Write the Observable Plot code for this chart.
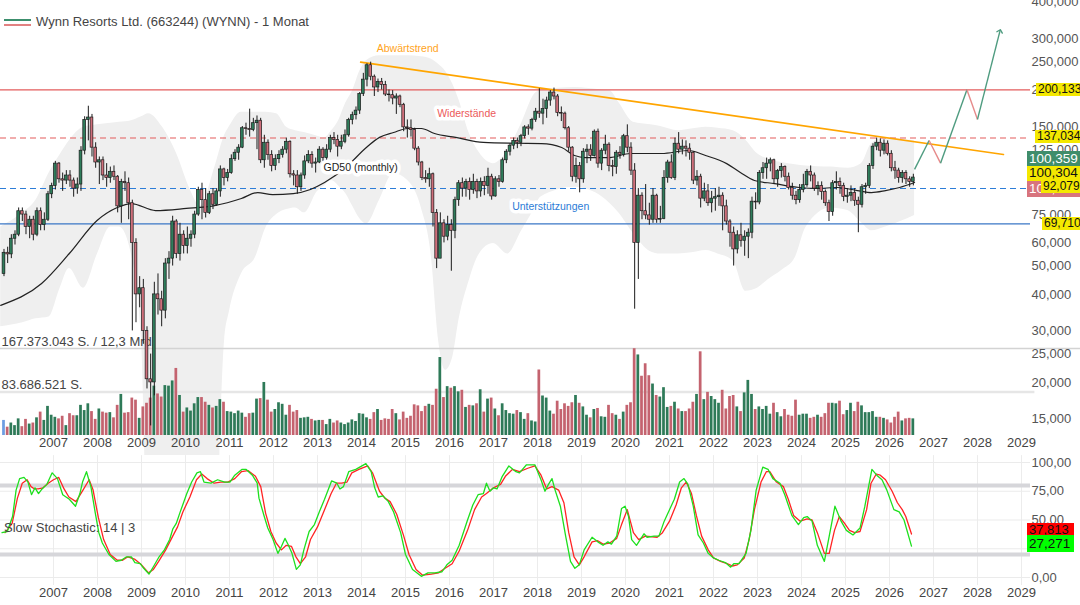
<!DOCTYPE html>
<html lang="de"><head><meta charset="utf-8">
<script src="https://cdn.jsdelivr.net/npm/d3@7"></script>
<script src="https://cdn.jsdelivr.net/npm/@observablehq/plot@0.6"></script>
<style>
html,body{margin:0;padding:0;background:#fff;}
#wrap{position:relative;width:1080px;height:605px;overflow:hidden;background:#fff;font-family:"Liberation Sans",Arial,sans-serif;}
#wrap svg{position:absolute;left:0;}
.box{position:absolute;white-space:nowrap;padding-left:2px;box-sizing:border-box;overflow:hidden;}
#title{position:absolute;left:36px;top:14px;font-size:13px;color:#444;}
.leg{position:absolute;left:4px;width:27px;height:2px;}
#stochLabel{position:absolute;left:4px;top:520px;font-size:13px;color:#444;}
</style></head><body><div id="wrap"></div>
<script>
// ---------------- data ----------------
const startYear = 2005, startMonth = 11; // first monthly candle: Nov 2005
const firstOpen = 47;
const close = [55.5,54.8,62,64,77,75,68,72,64,77,69,72,88,94,
112,99,98,102,98,92,95,124,158,161,127,113,
115,102,100,105,101,80,97,96,82,60,40,42,
30,20.5,20,40,38.5,35.2,51,53,71,55,64,58.5,
62,64,75,91,84,76,88,81,90,107,100,104,
116,122,127,148,147,146,154,157,115,132,120,110,
116,120,125,133,103,102,93,102,114,120,112,113,
125,117,125,137,135,128,133,140,158,164,170,194,
217,243,222,204,213,208,193,192,187,190,178,149,
148,146,126,113,100,99,103,76,53,70,63,69,
66,84,96,92,97,91,97,90,97,94,101,86.5,
99,97,115,123,129,134,132,139,149,147.5,158,168.6,
166,172,184,196,190,167,166,148,127,101,110,99,
123,125,119,144,112,124,130,110,109,122,120,139,
127,106,60,87,77,74.5,72,87,72,72.5,100,113,
100,131,125,128,126,122,98,101,85,90,82,85,
86,87,80,71,65,57,63.7,61,63,65,83,82.5,
104,108,112,115,99,105.6,109,101,92.4,87,84,91,
94.5,105,102,92,94,89.5,82,76.5,96,97,94,86.2,
87,89,83.6,81,93,94,110,128,132,124,131,121,
108,106,100,104,99,97,100.36];
const high = [57,58,64,66,79,79,77,74,74,79,79,76,90,96,
114,113,104,106,106,100,100,128,162,176,165,132,
118,118,112,109,110,102,99,105,100,84,62,46,
45,31,25,44,47,41,53,56,74,72,70,66,
68,66,77,93,96,92,90,92,92,110,108,107,
120,125,130,150,154,172,160,163,160,140,135,124,
120,124,128,137,134,106,106,104,119,124,123,117,
128,127,130,140,143,140,140,146,160,168,175,196,
228,246,249,225,218,219,214,200,199,194,192,180,
158,158,148,128,114,106,108,104,78,76,72,74,
72,86,98,100,99,100,103,99,100,101,108,103,
101,102,117,125,131,137,137,141,151,152,160,173,
202,186,189,199,203,193,175,168,150,128,117,113,
126,130,130,146,147,126,140,132,115,124,128,141,
152,132,112,92,89,95,82,92,88,80,106,115,
120,137,143,135,134,131,123,106,103,96,95,90,
92,93,89,84,72,68,66,70,66,67,86,89,
106,113,117,117,116,107,112,110,104,96,90,95,
103,107,110,104,97,97,91,84,98,105,100,96,
92,94,92,86,95,96,112,131,137,136,135,134,
124,114,108,106,106,101,103];
const low = [46,51,53,59,63,71,64,62,61,63,66,66,71,85,
91,96,90,95,93,86,88,90,120,134,118,108,
95,98,93,96,98,76,70,90,72,30,32,36,
27,19,14.2,18,34,31,33,45,50,53,52,55,
55,58,62,74,72,73,75,78,80,86,94,97,
103,114,115,126,140,138,144,125,112,108,115,105,
106,112,117,121,100,94,88,90,99,112,108,104,
112,114,114,122,130,118,125,131,138,152,158,165,
190,205,215,190,196,200,190,182,178,165,174,144,
137,138,124,110,98,96,93,68,49,53,60,61,
48,62,80,86,86,84,88,85,86,87,88,84,
86,93,96,112,119,125,126,128,136,140,145,155,
160,152,160,176,185,162,156,146,123,97,96,89,
96,112,114,118,108,106,120,105,101,103,116,118,
122,102,35.6,45,72,72,69,70,70,70,72,96,
99,98,121,120,118,115,95,94,79,83,80,76,
77,80,66,69,58,50,55,58,54,53,62,78,
81,99,99,105,95,93,100,97,91,84,81,82,
89,93,97,90,87,84,80,71,74,91,88,83,
82,83,80,65,79,88,92,107,124,118,120,119,
105,99,96,96,95,93,94];
const volume = [29,16,24,19,32,17,31,22,24,34,45,29,56,39,
35,32,37,19,42,38,38,58,48,61,46,31,
51,45,43,44,34,58,79,43,44,72,68,33,
55,62,72,95,80,74,96,95,105,129,77,45,
53,47,61,73,73,64,58,53,56,69,64,46,
45,42,47,43,35,42,43,70,71,102,68,45,
50,63,60,39,58,45,48,33,34,35,31,28,
29,29,21,31,24,28,24,21,24,30,27,42,
41,34,31,44,50,29,32,31,50,42,30,45,
33,37,59,57,46,56,60,58,89,150,73,94,
91,94,84,87,54,58,57,61,88,45,70,72,
51,38,61,48,42,41,48,44,31,42,28,26,
126,76,72,47,41,66,50,61,56,63,77,62,
55,39,34,50,52,36,35,58,42,39,31,45,
58,63,167,155,114,138,115,99,77,74,92,54,
56,64,51,46,46,51,64,79,161,69,83,75,
69,62,87,51,75,77,55,46,82,106,79,50,
55,50,56,41,62,44,36,50,39,37,68,39,
41,41,33,35,39,35,42,62,62,61,66,40,
48,62,46,64,57,44,44,46,35,35,33,30,
24,35,45,28,32,33,32]; // millions of shares
const volumeTopLabel = "167.373.043 S. / 12,3 Mrd.", volumeTopValue = 167.373043;
const volumeMidLabel = "83.686.521 S.", volumeMidValue = 83.686521;

// GD50 (monthly): [year, price]
const gd50 = [[2005.80,36.7],[2006.73,43.6],[2007.36,55.2],[2007.99,71.6],[2008.45,79.3],[2008.77,81.8],[2009.32,77.4],[2010.02,78.7],[2010.66,80.5],[2011.27,85.1],[2011.64,89.2],[2011.98,87.8],[2012.45,88.5],[2012.84,91.4],[2013.16,96.5],[2013.64,108.6],[2014.11,127.2],[2014.41,137.7],[2014.73,143.1],[2015.05,147.7],[2015.36,147.7],[2015.66,142],[2016.14,137.7],[2016.77,132.3],[2017.5,131.5],[2018.09,131.2],[2018.55,127.2],[2018.84,119.4],[2019.09,117.5],[2019.64,117.5],[2020.11,121.3],[2020.82,121.3],[2021.43,124.2],[2021.82,119.4],[2022.30,112],[2022.61,104.4],[2022.93,98.1],[2023.39,95.7],[2023.95,92.8],[2024.34,92.1],[2024.82,92.8],[2025.27,90.6],[2025.59,89.2],[2025.91,90.6],[2026.23,92.8],[2026.57,96.5]];

// grey envelope: [year, upper, lower]  (lower 5 = below the visible area)
const band = [[2005.80,68,31],[2006.30,76,32],[2006.60,84,33],[2006.90,104,33.5],[2007.15,120,42],[2007.36,134,49],[2007.68,149,42],[2008.00,152,55],[2008.30,154,68],[2008.50,155,68],[2008.77,157,55],[2009.00,162,28],[2009.16,166,5],[2009.48,149,5],[2009.80,121,5],[2010.11,91,5],[2010.34,80,5],[2010.66,108,5],[2010.89,140,28],[2011.00,150,35],[2011.27,168,47],[2011.59,168,53.5],[2011.83,168,67.7],[2012.07,166,75],[2012.30,149,78],[2012.50,145,79],[2012.70,143,76],[2013.00,139,90],[2013.16,137,94],[2013.32,145,98],[2013.48,157,94],[2013.64,180,88.5],[2013.80,199,80],[2013.95,230,73],[2014.11,252,69.7],[2014.41,262,84],[2014.73,262,103.6],[2015.05,262,98],[2015.36,260,79],[2015.59,255,53.5],[2015.75,245,28],[2015.91,232,22],[2016.07,210,24.3],[2016.22,184,33],[2016.45,142,44.6],[2016.68,122,55],[2017.00,112,59.7],[2017.32,124,55],[2017.64,154,66],[2017.94,194,79],[2018.07,199,86],[2018.85,204,93],[2019.48,200,86],[2019.64,199,82],[2019.86,180,75.6],[2020.18,155,64.6],[2020.57,152,56],[2020.80,150,55],[2021.20,145,55],[2021.50,147,55.5],[2021.83,149,56.5],[2022.10,148,55],[2022.45,145,52],[2022.73,135,41],[2023.00,121,42],[2023.25,116,45],[2023.55,113,48.3],[2023.86,111,53.5],[2024.10,110,67.7],[2024.66,109,79],[2025.05,108,77.4],[2025.36,112,70.4],[2025.59,131,66],[2025.91,137.7,68],[2026.25,136,71],[2026.57,134,74.5]];

// Slow Stochastic 14 | 3 : [year, value]
const stochK = [[2005.83,39],[2005.95,40],[2006.07,53],[2006.15,76],[2006.23,86],[2006.33,87],[2006.42,83],[2006.5,72],[2006.58,78],[2006.66,73],[2006.74,77],[2006.85,81],[2006.97,91],[2007.09,86],[2007.21,72],[2007.36,68],[2007.5,62],[2007.6,73],[2007.66,83],[2007.75,92],[2007.85,79],[2007.95,56],[2008.03,39],[2008.11,30],[2008.26,20],[2008.42,14],[2008.54,15],[2008.66,18],[2008.77,18],[2008.85,13],[2008.97,12],[2009.05,8],[2009.17,3],[2009.28,10],[2009.4,18],[2009.52,24],[2009.64,33],[2009.71,42],[2009.79,47],[2009.87,56],[2010.03,73],[2010.14,83],[2010.26,91],[2010.34,92],[2010.42,83],[2010.58,82],[2010.73,85],[2010.89,83],[2011.01,83],[2011.12,89],[2011.28,94],[2011.38,94],[2011.52,89],[2011.63,82],[2011.67,69],[2011.79,53],[2011.87,43],[2011.99,33],[2012.1,21],[2012.18,27],[2012.26,34],[2012.34,28],[2012.42,21],[2012.52,7],[2012.61,11],[2012.69,24],[2012.81,40],[2012.93,46],[2013.04,57],[2013.16,68],[2013.32,84],[2013.44,82],[2013.51,77],[2013.59,79],[2013.71,92],[2013.87,94],[2014.1,99],[2014.22,92],[2014.3,78],[2014.38,70],[2014.49,71],[2014.61,66],[2014.73,57],[2014.89,39],[2015.0,20],[2015.16,7],[2015.36,1],[2015.51,4],[2015.67,4],[2015.83,5],[2015.94,11],[2016.06,15],[2016.22,28],[2016.41,50],[2016.53,63],[2016.65,72],[2016.77,73],[2016.84,82],[2016.92,75],[2017.0,78],[2017.08,77],[2017.2,88],[2017.35,97],[2017.51,92],[2017.59,91],[2017.75,98],[2017.94,98],[2018.08,85],[2018.17,75],[2018.25,81],[2018.33,86],[2018.4,76],[2018.52,62],[2018.64,36],[2018.75,14],[2018.85,8],[2018.95,11],[2019.06,24],[2019.24,35],[2019.37,31],[2019.49,28],[2019.6,31],[2019.68,29],[2019.8,36],[2019.91,60],[2019.99,62],[2020.07,53],[2020.14,33],[2020.25,28],[2020.42,38],[2020.49,35],[2020.65,36],[2020.76,36],[2020.88,49],[2021.0,59],[2021.11,68],[2021.23,83],[2021.33,86],[2021.42,81],[2021.54,62],[2021.65,37],[2021.77,30],[2021.88,21],[2022.0,17],[2022.12,15],[2022.27,13],[2022.39,9],[2022.46,12],[2022.58,12],[2022.74,21],[2022.85,41],[2022.97,76],[2023.12,96],[2023.24,94],[2023.35,86],[2023.51,82],[2023.62,72],[2023.78,54],[2023.93,46],[2024.05,52],[2024.13,53],[2024.24,49],[2024.36,28],[2024.52,14],[2024.63,36],[2024.76,62],[2024.9,49],[2025.02,41],[2025.17,37],[2025.33,43],[2025.44,62],[2025.54,82],[2025.6,94],[2025.71,89],[2025.83,85],[2025.94,76],[2026.1,59],[2026.22,57],[2026.33,50],[2026.5,27.271]];
const stochD = [[2005.9,39],[2006.06,47],[2006.18,69],[2006.29,82],[2006.4,85],[2006.49,79],[2006.57,77],[2006.65,77],[2006.76,78],[2006.88,82],[2007.0,85],[2007.12,87],[2007.24,77],[2007.35,70],[2007.51,66],[2007.67,76],[2007.81,85],[2007.9,76],[2008.02,52],[2008.14,33],[2008.29,20],[2008.45,15],[2008.57,15],[2008.69,18],[2008.84,16],[2009.0,11],[2009.16,4],[2009.27,7],[2009.39,14],[2009.55,24],[2009.71,36],[2009.82,44],[2009.94,57],[2010.1,70],[2010.25,85],[2010.37,90],[2010.49,86],[2010.65,82],[2010.8,83],[2010.96,83],[2011.12,86],[2011.27,92],[2011.42,93],[2011.59,88],[2011.71,79],[2011.82,56],[2011.94,40],[2012.06,30],[2012.18,24],[2012.29,28],[2012.41,27],[2012.51,18],[2012.61,12],[2012.73,18],[2012.84,33],[2013.0,44],[2013.16,59],[2013.31,73],[2013.43,82],[2013.55,82],[2013.67,83],[2013.78,91],[2013.94,94],[2014.14,97],[2014.25,91],[2014.41,75],[2014.53,69],[2014.65,66],[2014.8,55],[2014.96,36],[2015.08,20],[2015.24,7],[2015.39,2],[2015.59,3],[2015.75,4],[2015.9,8],[2016.06,12],[2016.22,23],[2016.41,41],[2016.57,59],[2016.73,70],[2016.84,73],[2017.0,78],[2017.16,81],[2017.27,88],[2017.43,94],[2017.59,92],[2017.78,95],[2017.94,97],[2018.08,89],[2018.21,77],[2018.33,79],[2018.48,76],[2018.6,65],[2018.71,39],[2018.83,18],[2018.95,11],[2019.06,18],[2019.24,31],[2019.37,32],[2019.49,29],[2019.64,30],[2019.8,34],[2019.91,46],[2020.04,59],[2020.18,39],[2020.3,33],[2020.45,36],[2020.72,35],[2020.84,39],[2021.0,49],[2021.15,63],[2021.27,78],[2021.38,83],[2021.5,73],[2021.61,54],[2021.73,36],[2021.88,24],[2022.0,17],[2022.16,14],[2022.31,12],[2022.43,10],[2022.54,11],[2022.7,17],[2022.81,33],[2022.93,59],[2023.08,83],[2023.2,92],[2023.28,92],[2023.43,83],[2023.59,79],[2023.7,68],[2023.82,54],[2023.97,49],[2024.13,51],[2024.24,50],[2024.36,39],[2024.52,21],[2024.63,21],[2024.75,41],[2024.86,53],[2024.98,47],[2025.09,41],[2025.21,39],[2025.33,40],[2025.48,59],[2025.58,82],[2025.7,90],[2025.79,89],[2025.91,85],[2026.06,75],[2026.18,65],[2026.29,59],[2026.37,53],[2026.5,37.813]];

const resistanceLevels = [200.133, 137.034];
const supportLevels = [92.079, 69.71];
const trend = [[2013.98, 249], [2028.59, 120.3]];
const projection = [[2026.57,107],[2026.90,134.4],[2027.16,112.4],[2027.76,200.4],[2028.0,158.6],[2028.51,318]];
const priceTicks = [15,20,25,30,40,50,60,75,125,150,200,250,300,400];   // 100,000 sits hidden behind the value boxes
const stochGrid = [0,25,50,75,100];
const stochTicks = [0,50,75,100];                                        // 25,00 sits hidden behind the value boxes
const stochBands = [20, 80];
const yearTicks = [2007,2008,2009,2010,2011,2012,2013,2014,2015,2016,2017,2018,2019,2020,2021,2022,2023,2024,2025,2026,2027,2028,2029];
const lastClose = 100.359, lastMid = 100.304, lastOpen = 100.26;
const stochDLast = 37.813, stochKLast = 27.271;
const annotations = [
  {t: 2015.05, p: 277, text: "Abwärtstrend", color: "#ffa41c", halo: false},
  {t: 2016.39, p: 166, text: "Widerstände", color: "#ec5a5a", halo: true},
  {t: 2013.98, p: 108.6, text: "GD50 (monthly)", color: "#222", halo: true},
  {t: 2018.30, p: 79.9, text: "Unterstützungen", color: "#2b7bd6", halo: true}
];

// ---------------- build ----------------
const rows = close.map((c, i) => {
  const mi = startMonth - 1 + i;
  const yr = startYear + Math.floor(mi / 12), mo = mi % 12;
  const o = i === 0 ? firstOpen : close[i - 1];
  return {t: yr + (mo + 0.5) / 12, o, h: high[i], l: low[i], c, v: volume[i], up: c >= o, first: i === 0};
});
const GREEN = "#2f7d5b", RED = "#cf6f7b", VGREEN = "#2e7a58", VRED = "#c4636f";
const PG = "#4f9c80", PR = "#e68a8a";
const FONT = "Liberation Sans, Arial, sans-serif";
const xStart = 2005.7955, pxPerYear = 44;
const xDomain = [xStart, xStart + 1030 / pxPerYear];
const hw = 0.031;
const fmt3 = d => d.toFixed(3).replace(".", ",");
const fmt2 = d => d.toFixed(2).replace(".", ",");
const baseStyle = {background: "transparent", fontFamily: FONT, fontSize: "13px", color: "#555", overflow: "visible"};
const wrap = document.getElementById("wrap");

// layer 1: grey envelope
const bandPlot = Plot.plot({
  width: 1080, height: 455, marginLeft: 0, marginRight: 50, marginTop: 0, marginBottom: 0,
  x: {type: "linear", domain: xDomain, axis: null},
  y: {type: "log", domain: [11.25, 404.6], axis: null},
  style: baseStyle,
  marks: [
    Plot.areaY(band, {x: d => d[0], y1: d => d[2], y2: d => d[1], fill: "#efefef", curve: "monotone-x", clip: true})
  ]
});
bandPlot.style.top = "0px";
wrap.appendChild(bandPlot);

// layer 2: volume
const volPlot = Plot.plot({
  width: 1080, height: 455, marginLeft: 0, marginRight: 0, marginTop: 348, marginBottom: 20,
  x: {type: "linear", domain: [xStart, xStart + 1080 / pxPerYear], axis: null},
  y: {domain: [0, volumeTopValue], axis: null},
  color: {type: "identity"},
  style: baseStyle,
  marks: [
    Plot.ruleY([volumeTopValue], {stroke: "#d3d3d3", strokeWidth: 1.5}),
    Plot.ruleY([volumeMidValue], {x1: xDomain[0], x2: xDomain[1] + 0.1, stroke: "#e6e6e6", strokeWidth: 2.5}),
    Plot.rectY(rows, {x1: d => d.t - 0.031, x2: d => d.t + 0.031, y: "v", fill: d => d.first ? "#6d9de2" : d.up ? VGREEN : VRED}),
    Plot.text([volumeTopLabel], {frameAnchor: "left", y: volumeTopValue, text: d => d, dx: 1, dy: -7, textAnchor: "start", fill: "#444", fontSize: 13}),
    Plot.text([volumeMidLabel], {frameAnchor: "left", y: volumeMidValue, text: d => d, dx: 1, dy: -7, textAnchor: "start", fill: "#444", fontSize: 13})
  ]
});
volPlot.style.top = "0px";
wrap.appendChild(volPlot);

// layer 3: price
const projSegs = projection.slice(1).map((p, i) => ({x1: projection[i][0], y1: projection[i][1], x2: p[0], y2: p[1], up: p[1] > projection[i][1]}));
const main = Plot.plot({
  width: 1080, height: 455, marginLeft: 0, marginRight: 50, marginTop: 0, marginBottom: 0,
  x: {type: "linear", domain: xDomain, axis: null},
  y: {type: "log", domain: [11.25, 404.6]},
  color: {type: "identity"},
  style: baseStyle,
  marks: [
    Plot.ruleY([resistanceLevels[0]], {stroke: "#e35d5d", strokeWidth: 1.2}),
    Plot.ruleY([resistanceLevels[1]], {stroke: "#e35d5d", strokeWidth: 1.2, strokeDasharray: "6,4"}),
    Plot.ruleY([supportLevels[0]], {stroke: "#2d7dd8", strokeWidth: 1.2, strokeDasharray: "6,4"}),
    Plot.ruleY([supportLevels[1]], {stroke: "#3a77c6", strokeWidth: 1.2}),
    Plot.line(gd50, {x: d => d[0], y: d => d[1], stroke: "#222", strokeWidth: 1.2, curve: "monotone-x"}),
    Plot.line(trend, {x: d => d[0], y: d => d[1], stroke: "#ffa500", strokeWidth: 1.6}),
    Plot.ruleX(rows, {x: "t", y1: "l", y2: "h", stroke: "#1b1b1b", strokeWidth: 1}),
    Plot.rect(rows, {x1: d => d.t - hw, x2: d => d.t + hw, y1: "o", y2: "c", fill: d => d.up ? GREEN : RED, stroke: "#1b1b1b", strokeWidth: 0.7}),
    Plot.link(projSegs.slice(0, -1), {x1: "x1", y1: "y1", x2: "x2", y2: "y2", stroke: d => d.up ? PG : PR, strokeWidth: 1.4}),
    Plot.link(projSegs.slice(-1), {x1: "x1", y1: "y1", x2: "x2", y2: "y2", stroke: PG, strokeWidth: 1.4, markerEnd: "arrow"}),
    Plot.text(annotations.filter(a => a.halo), {x: "t", y: "p", text: "text", fill: "color", stroke: "white", strokeWidth: 7, fontSize: 10.5}),
    Plot.text(annotations.filter(a => !a.halo), {x: "t", y: "p", text: "text", fill: "color", fontSize: 10.5}),
    Plot.text(yearTicks, {x: d => d, text: d => String(d), frameAnchor: "bottom", dy: -9, fontSize: 13, fill: "#444"}),
    Plot.axisY(priceTicks, {anchor: "right", tickFormat: fmt3, tickSize: 0, tickPadding: 1, label: null, fontSize: 13, fill: "#555"})
  ]
});
main.style.top = "0px";
wrap.appendChild(main);

// layer 4: stochastic
const stoch = Plot.plot({
  width: 1080, height: 150, marginLeft: 0, marginRight: 50, marginTop: 7, marginBottom: 28,
  x: {type: "linear", domain: xDomain},
  y: {domain: [0, 100]},
  style: baseStyle,
  marks: [
    Plot.ruleX(yearTicks, {y1: -7, y2: 106, stroke: "#ececec"}),
    Plot.ruleY(stochGrid, {stroke: "#ebebeb"}),
    Plot.ruleY(stochBands, {stroke: "#d6d6da", strokeWidth: 4}),
    Plot.line(stochD, {x: d => d[0], y: d => d[1], stroke: "#ff2424", strokeWidth: 1.3}),
    Plot.line(stochK, {x: d => d[0], y: d => d[1], stroke: "#1ee01e", strokeWidth: 1.3}),
    Plot.axisX(yearTicks, {anchor: "bottom", tickFormat: d => String(d), tickSize: 0, tickPadding: 10, label: null, fontSize: 13, fill: "#444"}),
    Plot.axisY(stochTicks, {anchor: "right", tickFormat: fmt2, tickSize: 0, tickPadding: 1, label: null, fontSize: 13, fill: "#555"})
  ]
});
stoch.style.top = "455px";
wrap.appendChild(stoch);

// title + legend icon
const title = document.createElement("div");
title.id = "title";
title.textContent = "Wynn Resorts Ltd. (663244) (WYNN) - 1 Monat";
wrap.appendChild(title);
[["#3c8f6d", 19], ["#e28181", 24]].forEach(([c, y]) => {
  const l = document.createElement("div"); l.className = "leg";
  l.style.top = y + "px"; l.style.background = c; wrap.appendChild(l);
});
const sl = document.createElement("div"); sl.id = "stochLabel"; sl.textContent = "Slow Stochastic: 14 | 3"; wrap.appendChild(sl);

// value boxes on the right axis
const ys = main.scale("y"), yst = stoch.scale("y");
function box(text, left, right, cy, h, fs, bg, color) {
  const b = document.createElement("div");
  b.className = "box"; b.textContent = text;
  b.style.left = left + "px"; b.style.right = right + "px";
  b.style.top = (cy - h / 2) + "px"; b.style.height = h + "px"; b.style.lineHeight = h + "px";
  b.style.fontSize = fs + "px";
  b.style.background = bg; b.style.color = color;
  wrap.appendChild(b);
}
const Y = "#f4e800";
box(fmt3(resistanceLevels[0]), 1036, 0, ys.apply(resistanceLevels[0]), 13, 12, Y, "#111");
box(fmt3(resistanceLevels[1]), 1035, 0, ys.apply(resistanceLevels[1]) - 1, 13, 12, Y, "#111");
box(fmt3(lastOpen), 1027, 0, ys.apply(lastOpen) + 12, 16, 13.5, "#d8747d", "#fff");
box(fmt3(lastMid), 1027, 0, ys.apply(lastMid) - 4, 16, 13.5, Y, "#111");
box(fmt3(lastClose), 1027, 0, ys.apply(lastClose) - 18.5, 15, 13.5, "#3f8d6b", "#fff");
box(fmt3(supportLevels[0]), 1041, 0, ys.apply(supportLevels[0]) - 1, 13, 12, Y, "#111");
box(fmt3(supportLevels[1]), 1042, 0, ys.apply(supportLevels[1]), 13, 12, Y, "#111");
box(fmt3(stochDLast), 1027, 6, 455 + yst.apply(stochDLast) - 4.5, 13, 13, "#ff0000", "#111");
box(fmt3(stochKLast), 1027, 6, 455 + yst.apply(stochKLast) - 2, 17, 13.5, "#00ff00", "#111");
</script></body></html>
